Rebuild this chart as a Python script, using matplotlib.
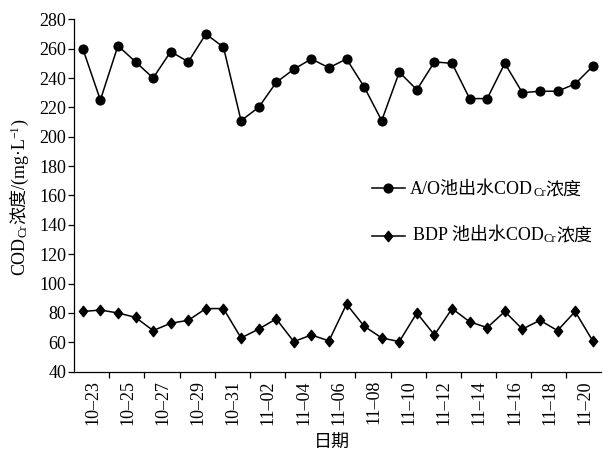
import matplotlib
matplotlib.use('Agg')
import matplotlib.pyplot as plt
from matplotlib.lines import Line2D
from matplotlib.path import Path
import numpy as np

# ---------------- data ----------------
dates = ['10-23', '10-24', '10-25', '10-26', '10-27', '10-28', '10-29', '10-30', '10-31',
         '11-01', '11-02', '11-03', '11-04', '11-05', '11-06', '11-07', '11-08', '11-09',
         '11-10', '11-11', '11-12', '11-13', '11-14', '11-15', '11-16', '11-17', '11-18',
         '11-19', '11-20', '11-21']
ao_cod = [260, 225, 262, 251, 240, 258, 251, 270, 261, 211, 220, 237, 246, 253, 247,
          253, 234, 211, 244, 232, 251, 250, 226, 226, 250, 230, 231, 231, 236, 248]
bdp_cod = [81, 82, 80, 77, 68, 73, 75, 83, 83, 63, 69, 76, 60.5, 65, 61,
           86, 71, 63, 60.5, 80, 65, 83, 74, 70, 81, 69, 75, 68, 81, 61]
tick_labels = dates[::2]
y_ticks = list(range(40, 281, 20))

FAM = ['Liberation Serif', 'Noto Sans CJK SC']
plt.rcParams['font.family'] = FAM

W, H = 603, 451
fig = plt.figure(figsize=(W / 100, H / 100), dpi=100)
left, right, top, bottom = 74, 601.5, 19.3, 371.7
ax = fig.add_axes([left / W, 1 - bottom / H, (right - left) / W, (bottom - top) / H])

diamond = Path([(0, 1), (0.8, 0), (0, -1), (-0.8, 0), (0, 1)],
               [Path.MOVETO, Path.LINETO, Path.LINETO, Path.LINETO, Path.CLOSEPOLY])

x = np.arange(len(dates))
ax.plot(x, ao_cod, color='black', lw=1.1, marker='o', ms=6.3, mfc='black', mec='black')
ax.plot(x, bdp_cod, color='black', lw=1.1, marker=diamond, ms=7.5, mfc='black', mec='black')

ax.set_xlim(-0.5, len(dates) - 0.5)
ax.set_ylim(40, 280)
ax.set_yticks(y_ticks)
ax.set_yticklabels([str(v) for v in y_ticks], fontsize=13)

ax.set_xticks(np.arange(1.5, len(dates) - 1, 2))
ax.set_xticklabels([])
ax.set_xticks(np.arange(0, len(dates), 2) + 0.55, minor=True)
ax.set_xticklabels([t.replace('-', '\u2013') for t in tick_labels], minor=True,
                   rotation=90, fontsize=13)
ax.tick_params(axis='x', which='major', direction='out', length=4.5, width=0.9)
ax.tick_params(axis='x', which='minor', length=0, pad=6)
ax.tick_params(axis='y', direction='out', length=4, width=0.9, pad=1.5)

for s in ['top', 'right']:
    ax.spines[s].set_visible(False)
for s in ['left', 'bottom']:
    ax.spines[s].set_linewidth(0.9)
    ax.spines[s].set_color('black')

fig.canvas.draw()
renderer = fig.canvas.get_renderer()


def seg_text(x_px, y_px, segs, rotation=0):
    """Draw text made of segments (text, size, shift_px) starting at baseline point (image px)."""
    arts = []
    cur = 0.0
    for s, size, shift in segs:
        if rotation == 0:
            t = fig.text((x_px + cur) / W, 1 - (y_px + shift) / H, s, fontsize=size,
                         ha='left', va='baseline', family=FAM)
            cur += t.get_window_extent(renderer).width
        else:
            t = fig.text((x_px + shift) / W, 1 - (y_px - cur) / H, s, fontsize=size,
                         rotation=90, rotation_mode='anchor', ha='left', va='baseline', family=FAM)
            cur += t.get_window_extent(renderer).height
        arts.append(t)
    return cur


# y label (rotated), centred on the axis
ysegs = [('COD', 13, 0), ('Cr', 9, 2.5), ('浓度/(mg·L', 13, 0), ('\u22121', 8.5, -6), (')', 13, 0)]
tmp = []
L = 0
for s, size, shift in ysegs:
    t = fig.text(0, 0, s, fontsize=size, rotation=90, family=FAM)
    L += t.get_window_extent(renderer).height
    t.remove()
seg_text(24, 197 + L / 2, ysegs, rotation=90)

# x label
fig.text(332 / W, 1 - 443 / H, '日期', fontsize=13, ha='center', va='center',
         family=['Noto Sans CJK SC'])

# legend
rows = [(188.3, 'o', 6.3, 410, 194, 'A/O池出水'), (235.5, diamond, 7.5, 413, 240, 'BDP 池出水')]
for ly, mk, ms, tx, tb, name in rows:
    fig.add_artist(Line2D([371.7 / W, 405 / W], [1 - ly / H, 1 - ly / H], color='black', lw=1.1))
    fig.add_artist(Line2D([388.3 / W], [1 - ly / H], marker=mk, ms=ms, color='black',
                          mfc='black', mec='black', lw=0))
    seg_text(tx, tb, [(name + 'COD', 13, 0), ('Cr', 9, 2.5), ('浓度', 13, 0)])

fig.savefig('out.png', dpi=100)
